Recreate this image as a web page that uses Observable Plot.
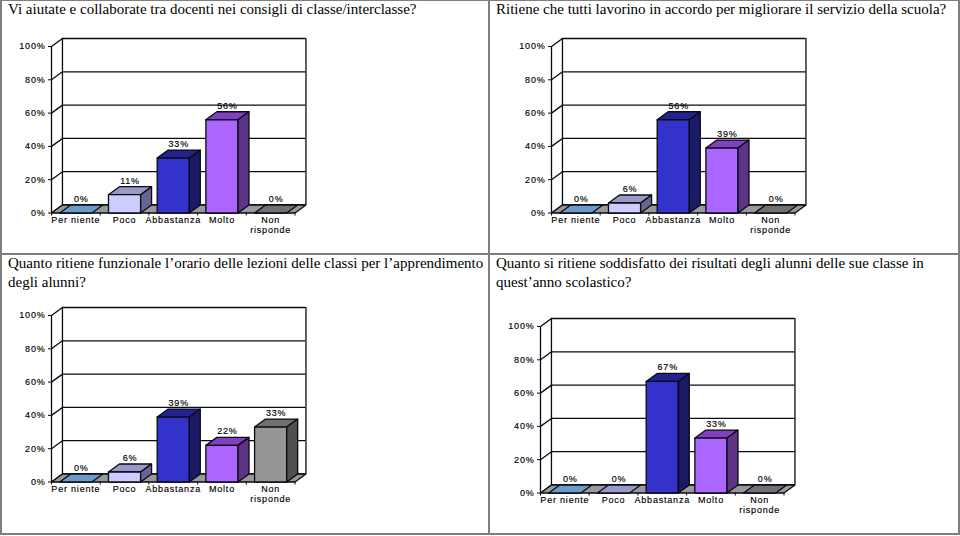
<!DOCTYPE html>
<html>
<head>
<meta charset="utf-8">
<script src="https://cdn.jsdelivr.net/npm/d3@7"></script>
<script src="https://cdn.jsdelivr.net/npm/@observablehq/plot@0.6"></script>
<style>
html,body{margin:0;padding:0;background:#fff;}
#page{position:relative;width:960px;height:536px;overflow:hidden;background:#fff;}
.title{position:absolute;font-family:"Liberation Serif",serif;font-size:15px;line-height:18.5px;color:#000;white-space:pre;}
.line{position:absolute;background:#7f7f7f;}
.chart{position:absolute;}
.chart text{stroke:#000;stroke-width:0.15px;}
</style>
</head>
<body>
<div id="page"></div>
<script>
const categories = ["Per niente", "Poco", "Abbastanza", "Molto", "Non\nrisponde"];
const yTicks = [0, 20, 40, 60, 80, 100];

const frontColors = ["#80aedb", "#ccccff", "#3333cc", "#aa66ff", "#969696"];
const topColors   = ["#6d9bc8", "#9999c8", "#23238f", "#8040bf", "#707070"];
const sideColors  = ["#4d6d8c", "#666690", "#1a1a66", "#5c3386", "#505050"];

const title1 = "Vi aiutate e collaborate tra docenti nei consigli di classe/interclasse?";
const title2 = "Ritiene che tutti lavorino in accordo per migliorare il servizio della scuola?";
const title3 = "Quanto ritiene funzionale l’orario delle lezioni delle classi per l’apprendimento\ndegli alunni?";
const title4 = "Quanto si ritiene soddisfatto dei risultati degli alunni delle sue classe in\nquest’anno scolastico?";

const values1 = [0, 11, 33, 56, 0];
const values2 = [0, 6, 56, 39, 0];
const values3 = [0, 6, 39, 22, 33];
const values4 = [0, 0, 67, 33, 0];

const depthX = 0.225;   // chart depth, in category units
const depthY = 4.8;     // chart depth, in percent units
const barPad = 0.17;    // gap at each side of a bar, in category units

const marginLeft = 46, marginTop = 16, plotW = 243.5, plotH = 166.5, marginRight = 30, marginBottom = 46;
const ink = "#0a0a14", inkWidth = 1.3;

function poly(pts, fill) {
  return Plot.line(pts, {x: "x", y: "y", fill, stroke: ink, strokeWidth: inkWidth, curve: "linear-closed"});
}

function chart(values) {
  const wall = [
    Plot.ruleY(yTicks, {x1: depthX, x2: 5 + depthX, y: d => d + depthY, stroke: ink, strokeWidth: inkWidth}),
    Plot.link(yTicks, {x1: 0, y1: d => d, x2: depthX, y2: d => d + depthY, stroke: ink, strokeWidth: inkWidth}),
    Plot.ruleX([0], {y1: 0, y2: 100, stroke: ink, strokeWidth: inkWidth}),
    Plot.ruleX([depthX, 5 + depthX], {y1: depthY, y2: 100 + depthY, stroke: ink, strokeWidth: inkWidth}),
    poly([{x: 0, y: 0}, {x: 5, y: 0}, {x: 5 + depthX, y: depthY}, {x: depthX, y: depthY}], "#999999")
  ];
  const bars = values.flatMap((v, i) => {
    const a = i + barPad, b = i + 1 - barPad;
    const faces = [
      poly([{x: a, y: v}, {x: b, y: v}, {x: b + depthX, y: v + depthY}, {x: a + depthX, y: v + depthY}], topColors[i])
    ];
    if (v > 0) {
      faces.push(
        poly([{x: a, y: 0}, {x: b, y: 0}, {x: b, y: v}, {x: a, y: v}], frontColors[i]),
        poly([{x: b, y: 0}, {x: b + depthX, y: depthY}, {x: b + depthX, y: v + depthY}, {x: b, y: v}], sideColors[i])
      );
    }
    return faces;
  });
  return Plot.plot({
    width: marginLeft + plotW + marginRight,
    height: marginTop + plotH + marginBottom,
    marginLeft, marginTop, marginRight, marginBottom,
    style: {fontFamily: "'Liberation Sans', Arial, sans-serif", fontSize: "9px", letterSpacing: "0.8px", color: "#000", background: "transparent", overflow: "visible"},
    x: {domain: [0, 5]},
    y: {domain: [0, 100]},
    marks: [
      ...wall,
      ...bars,
      Plot.axisY({ticks: yTicks, tickFormat: d => d + "%", tickSize: 3, tickPadding: 3, label: null, stroke: ink, fill: "#000"}),
      Plot.axisX({ticks: d3.range(6), tickFormat: () => "", tickSize: 3, label: null, stroke: ink}),
      Plot.axisX({ticks: d3.range(5).map(i => i + 0.5), tickFormat: d => categories[d - 0.5], tickSize: 0, tickPadding: 2, lineHeight: 1.2, label: null, fill: "#000"}),
      Plot.text(values, {
        x: (d, i) => i + 0.5 + depthX / 2,
        y: d => d + depthY,
        text: d => d + "%",
        dy: -6,
        fill: "#000"
      })
    ]
  });
}

const page = document.getElementById("page");

function addLine(left, top, width, height) {
  const el = document.createElement("div");
  el.className = "line";
  Object.assign(el.style, {left: left + "px", top: top + "px", width: width + "px", height: height + "px"});
  page.appendChild(el);
}
addLine(0, 0, 960, 1);
addLine(0, 0, 2, 535);
addLine(488, 0, 2, 535);
addLine(958, 0, 2, 535);
addLine(0, 253, 960, 2);
addLine(0, 533, 960, 2);

function addPanel(title, titleLeft, titleTop, values, frontX, top100) {
  const t = document.createElement("div");
  t.className = "title";
  t.style.left = titleLeft + "px";
  t.style.top = titleTop + "px";
  t.textContent = title;
  page.appendChild(t);
  const c = document.createElement("div");
  c.className = "chart";
  c.style.left = (frontX - marginLeft) + "px";
  c.style.top = (top100 - marginTop) + "px";
  c.appendChild(chart(values));
  page.appendChild(c);
}

addPanel(title1, 8, 0, values1, 51, 45.5);
addPanel(title2, 496, 0, values2, 550.7, 45.5);
addPanel(title3, 8, 254, values3, 51, 315);
addPanel(title4, 496, 254, values4, 539.7, 326);
</script>
</body>
</html>
